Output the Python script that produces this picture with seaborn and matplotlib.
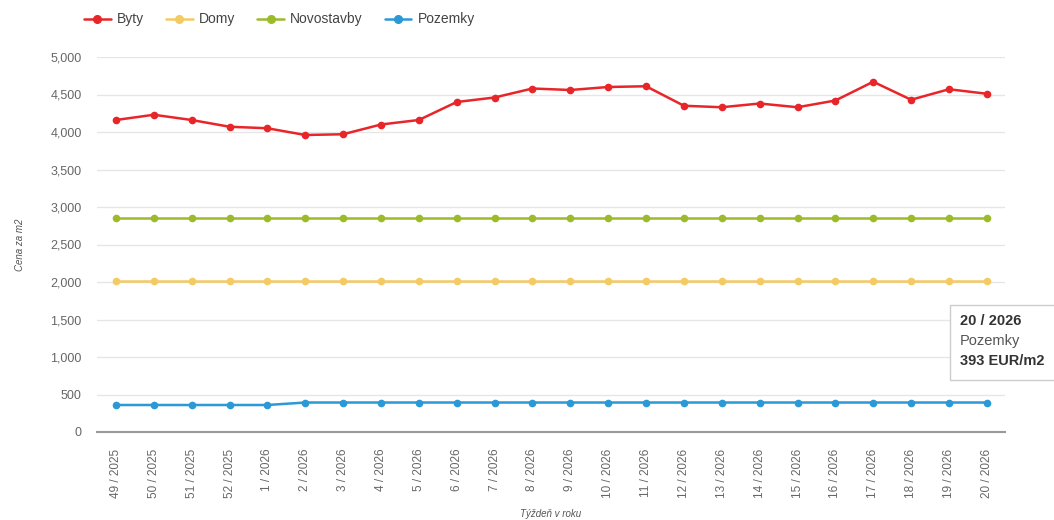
import numpy as np
import pandas as pd
import matplotlib.pyplot as plt
import matplotlib.patches as mpatches
import seaborn as sns

# tyzdne
weeks = ['49 / 2025', '50 / 2025', '51 / 2025', '52 / 2025', '1 / 2026', '2 / 2026',
         '3 / 2026', '4 / 2026', '5 / 2026', '6 / 2026', '7 / 2026', '8 / 2026',
         '9 / 2026', '10 / 2026', '11 / 2026', '12 / 2026', '13 / 2026', '14 / 2026',
         '15 / 2026', '16 / 2026', '17 / 2026', '18 / 2026', '19 / 2026', '20 / 2026']

byty = [4160, 4230, 4160, 4070, 4050, 3960, 3970, 4100, 4160, 4400, 4460, 4580,
        4560, 4600, 4610, 4350, 4330, 4380, 4330, 4420, 4670, 4430, 4570, 4510]
domy = [2010] * 24
novostavby = [2850] * 24
pozemky = [360, 360, 360, 360, 360, 393, 393, 393, 393, 393, 393, 393,
           393, 393, 393, 393, 393, 393, 393, 393, 393, 393, 393, 393]

series = ['Byty', 'Domy', 'Novostavby', 'Pozemky']
colors = ['#e8262a', '#f4cb63', '#9bbb2b', '#2a99d6']

df = pd.DataFrame({'tyzden': list(range(len(weeks))) * 4,
                   'cena': byty + domy + novostavby + pozemky,
                   'typ': np.repeat(series, len(weeks))})

sns.set_style('white')
plt.rcParams['font.family'] = ['Liberation Sans', 'DejaVu Sans']

fig = plt.figure(figsize=(10.54, 5.20), dpi=100)
ax = fig.add_axes([97 / 1054, 88 / 520, 908 / 1054, 375 / 520])

sns.lineplot(data=df, x='tyzden', y='cena', hue='typ', palette=colors,
             marker='o', markersize=5.5, markeredgewidth=0, linewidth=1.8, ax=ax,
             legend=False)

ax.set_xlim(-0.5, 23.48)
ax.set_ylim(0, 5000)
ax.set_yticks(range(0, 5001, 500))
ax.set_yticklabels(['{:,}'.format(v) for v in range(0, 5001, 500)], fontsize=9, color='#666666')
ax.set_xticks(range(len(weeks)))
ax.set_xticklabels(weeks, rotation=90, fontsize=8.5, color='#666666')
ax.tick_params(axis='y', length=0, pad=11)
ax.tick_params(axis='x', length=0, pad=12)
ax.grid(axis='y', color='#e6e6e6', linewidth=1)
ax.set_axisbelow(True)
for s in ['top', 'right', 'left']:
    ax.spines[s].set_visible(False)
ax.spines['bottom'].set_color('#999999')
ax.spines['bottom'].set_linewidth(1.5)

ax.set_ylabel('Cena za m2', fontsize=7, color='#555555', style='italic', labelpad=18)
ax.set_xlabel('Týždeň v roku', fontsize=7, color='#555555', style='italic', labelpad=8)

# legenda
handles = [plt.Line2D([], [], color=c, marker='o', markersize=5.5, linewidth=1.8) for c in colors]
fig.legend(handles, series, loc='upper left', bbox_to_anchor=(0.068, 1.0), ncol=4,
           frameon=False, fontsize=10, handlelength=1.9, handletextpad=0.45,
           columnspacing=1.6, labelcolor='#444444')

# tooltip
box = mpatches.Rectangle((950 / 1054, 140 / 520), 110 / 1054, 75 / 520,
                         transform=fig.transFigure, fc='white', ec='#cccccc', lw=1,
                         zorder=5, clip_on=False)
fig.patches.append(box)
fig.text(960 / 1054, 1 - 321 / 520, '20 / 2026', fontsize=10.5, fontweight='bold',
         color='#333333', va='center', zorder=6)
fig.text(960 / 1054, 1 - 341 / 520, 'Pozemky', fontsize=10.5,
         color='#555555', va='center', zorder=6)
fig.text(960 / 1054, 1 - 361 / 520, '393 EUR/m2', fontsize=10.5, fontweight='bold',
         color='#333333', va='center', zorder=6)

plt.savefig('out.png', dpi=100)
